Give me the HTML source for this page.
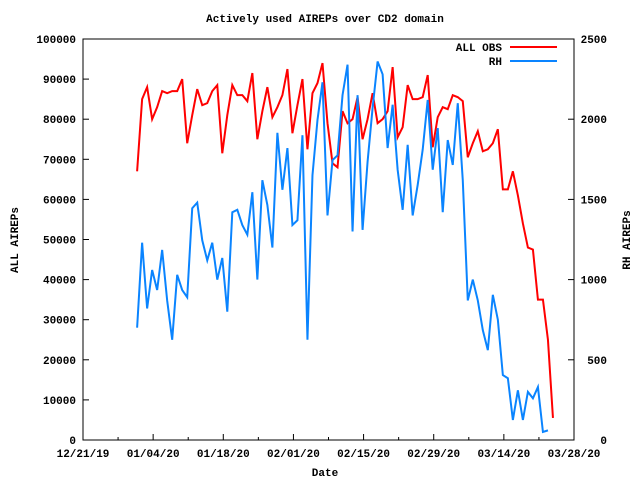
<!DOCTYPE html>
<html><head><meta charset="utf-8"><style>
html,body{margin:0;padding:0;background:#fff;}
svg{display:block;font-family:"Liberation Mono",monospace;font-size:11px;font-weight:bold;}
</style></head><body>
<svg id="chart" width="640" height="480" xmlns="http://www.w3.org/2000/svg">
<rect width="640" height="480" fill="#fff"/>
<text x="325" y="22" text-anchor="middle">Actively used AIREPs over CD2 domain</text>
<text x="325" y="476" text-anchor="middle">Date</text>
<text transform="translate(18,240) rotate(-90)" text-anchor="middle">ALL AIREPs</text>
<text transform="translate(630,240) rotate(-90)" text-anchor="middle">RH AIREPs</text>
<g id="axes"></g>
<g id="series"></g>
<g>
<text x="502" y="51" text-anchor="end">ALL OBS</text>
<line x1="510" y1="47" x2="557" y2="47" stroke="#ff0000" stroke-width="2"/>
<text x="502" y="65" text-anchor="end">RH</text>
<line x1="510" y1="61" x2="557" y2="61" stroke="#0a84ff" stroke-width="2"/>
</g>
</svg>
<script>
const xTickLabels = ["12/21/19","01/04/20","01/18/20","02/01/20","02/15/20","02/29/20","03/14/20","03/28/20"];
const leftTicks = [0,10000,20000,30000,40000,50000,60000,70000,80000,90000,100000];
const rightTicks = [0,500,1000,1500,2000,2500];
const startDay = 10.8; // days since 12/21/19
const allObs = [67000,85000,88000,80000,83000,87000,86500,87000,87000,90000,74000,81000,87500,83500,84000,87000,88500,71500,81000,88500,86000,86000,84500,91500,75000,82000,88000,80500,83000,86000,92500,76500,83500,90000,72500,86500,89000,94000,79000,69000,68000,82000,79000,80000,85500,75000,80000,86500,79000,80000,82000,93000,75500,78000,88500,85000,85000,85500,91000,73000,80500,83000,82500,86000,85500,84500,70500,74000,77000,72000,72500,74000,77500,62500,62500,67000,61000,54000,48000,47500,35000,35000,25000,5500];
const rhObs = [700,1230,820,1060,935,1185,870,625,1030,935,890,1445,1480,1245,1120,1230,1000,1135,800,1420,1435,1340,1280,1545,1000,1620,1465,1200,1915,1560,1820,1340,1370,1900,625,1650,1995,2230,1400,1745,1775,2150,2340,1300,2150,1310,1735,2070,2360,2280,1820,2090,1685,1435,1840,1400,1590,1810,2120,1685,1945,1420,1870,1715,2100,1620,870,1000,870,685,560,905,750,405,385,125,310,125,300,260,330,50,60];

const X0=83,X1=574,Y0=440,Y1=39,DAYS=98;
const xs=d=>X0+(d/DAYS)*(X1-X0);
const yL=v=>Y0-(v/100000)*(Y0-Y1);
const yR=v=>Y0-(v/2500)*(Y0-Y1);
const NS="http://www.w3.org/2000/svg";
function mk(tag,attrs,parent){const e=document.createElementNS(NS,tag);for(const k in attrs)e.setAttribute(k,attrs[k]);parent.appendChild(e);return e;}
const ax=document.getElementById('axes');
const frame=mk('rect',{x:X0,y:Y1,width:X1-X0,height:Y0-Y1,fill:'none',stroke:'#000','stroke-width':1},ax);


leftTicks.forEach(v=>{
  const y=yL(v);
  const t=mk('line',{x1:X0,y1:y,x2:X0+6,y2:y,stroke:'#000'},ax);
  
  
  const l=mk('text',{x:X0-7,y:y+4,'text-anchor':'end'},ax);l.textContent=v;
  
  
});
rightTicks.forEach(v=>{
  const y=yR(v);
  const t=mk('line',{x1:X1-6,y1:y,x2:X1,y2:y,stroke:'#000'},ax);
  
  
  const l=mk('text',{x:X1+33,y:y+4,'text-anchor':'end'},ax);l.textContent=v;
  
  
});
for(let d=0;d<=DAYS;d+=7){
  const x=xs(d),major=d%14===0,len=major?6:3;
  const t=mk('line',{x1:x,y1:Y0,x2:x,y2:Y0-len,stroke:'#000'},ax);
  
  
  if(major){
    const l=mk('text',{x:x,y:Y0+17,'text-anchor':'middle'},ax);l.textContent=xTickLabels[d/14];
    
    
  }
}
const sg=document.getElementById('series');
const p1=mk('polyline',{points:allObs.map((v,i)=>xs(startDay+i)+','+yL(v)).join(' '),fill:'none',stroke:'#ff0000','stroke-width':2},sg);


const p2=mk('polyline',{points:rhObs.map((v,i)=>xs(startDay+i)+','+yR(v)).join(' '),fill:'none',stroke:'#0a84ff','stroke-width':2},sg);


</script>
</body></html>
